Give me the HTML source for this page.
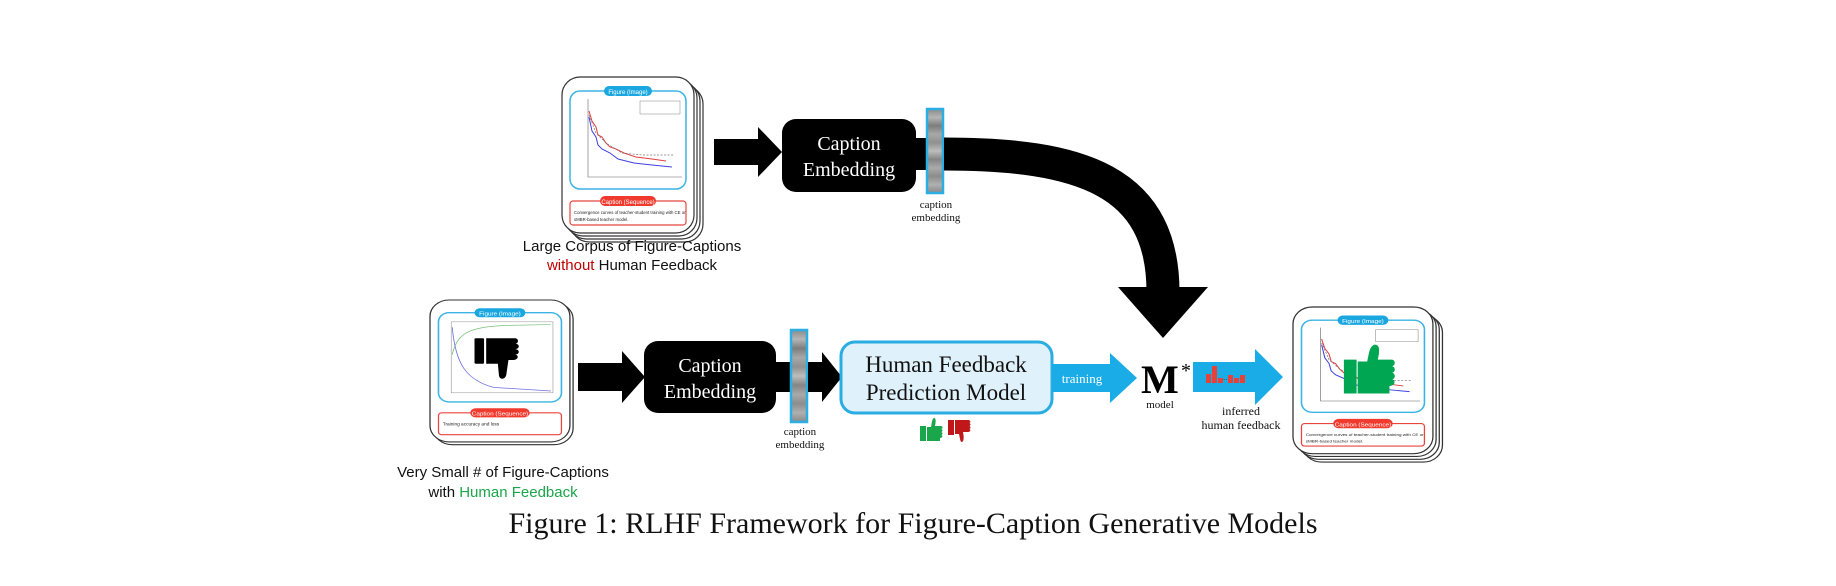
<!DOCTYPE html>
<html><head><meta charset="utf-8"><style>
html,body{margin:0;padding:0;background:#fff;}
svg{display:block;}
</style></head><body>
<svg width="1836" height="586" viewBox="0 0 1836 586" xmlns="http://www.w3.org/2000/svg">
<defs>
<linearGradient id="noise" x1="0" y1="0" x2="0" y2="1">
<stop offset="0" stop-color="#8a8a8a"/><stop offset="0.1" stop-color="#b5b5b5"/><stop offset="0.2" stop-color="#7d7d7d"/><stop offset="0.3" stop-color="#a8a8a8"/><stop offset="0.4" stop-color="#909090"/><stop offset="0.5" stop-color="#bdbdbd"/><stop offset="0.6" stop-color="#858585"/><stop offset="0.7" stop-color="#aaaaaa"/><stop offset="0.8" stop-color="#8c8c8c"/><stop offset="0.9" stop-color="#b0b0b0"/><stop offset="1" stop-color="#888"/>
</linearGradient>
</defs>

<!-- TOP CARD -->
<g transform="translate(562,77)" font-family="Liberation Sans, sans-serif">
<rect x="9" y="9" width="132" height="156" rx="18" fill="#fff" stroke="#333" stroke-width="1.2"/>
<rect x="6" y="6" width="132" height="156" rx="18" fill="#fff" stroke="#333" stroke-width="1.2"/>
<rect x="3" y="3" width="132" height="156" rx="18" fill="#fff" stroke="#333" stroke-width="1.2"/>
<rect x="0" y="0" width="132" height="156" rx="18" fill="#fff" stroke="#333" stroke-width="1.2"/>
<rect x="8" y="14" width="116" height="98" rx="10" fill="#fff" stroke="#3bb4e5" stroke-width="1.5"/>
<rect x="42" y="9" width="48" height="10" rx="5" fill="#1aa7e0"/>
<text x="66" y="17" font-size="6" fill="#fff" text-anchor="middle">Figure (Image)</text>
<path d="M26 22 V100 H120" fill="none" stroke="#666" stroke-width="0.6"/>
<path d="M27 34 L30 44 L34 50 L36 58 L40 60 L44 66 L48 70 L54 72 L62 76 L74 80 L90 82 L104 84" fill="none" stroke="#e04040" stroke-width="1"/>
<path d="M27 40 L30 54 L34 60 L36 68 L40 72 L48 76 L56 82 L72 86 L90 88 L110 90" fill="none" stroke="#4040e0" stroke-width="1"/>
<path d="M27 38 L34 56 L44 66 L60 76 L80 78 L112 78" fill="none" stroke="#777" stroke-width="0.7" stroke-dasharray="2,1.5"/>
<rect x="78" y="24" width="40" height="13" fill="#fff" stroke="#666" stroke-width="0.4"/>
<rect x="8" y="124" width="116" height="24" rx="3" fill="#fff" stroke="#e8453c" stroke-width="1.2"/>
<rect x="38" y="119" width="56" height="10" rx="5" fill="#f03a2e"/>
<text x="66" y="127" font-size="6" fill="#fff" text-anchor="middle">Caption (Sequence)</text>
<text x="12" y="137" font-size="4.3" fill="#222">Convergence curves of teacher-student training with CE or</text>
<text x="12" y="144" font-size="4.3" fill="#222">sMBR-based teacher model.</text>
</g>
<text x="632" y="251" font-family="Liberation Sans, sans-serif" font-size="15" text-anchor="middle" fill="#111">Large Corpus of Figure-Captions</text>
<text x="632" y="270" font-family="Liberation Sans, sans-serif" font-size="15" text-anchor="middle" fill="#111"><tspan fill="#c00000">without</tspan> Human Feedback</text>

<!-- top arrow -->
<path d="M714 139 H758 V127 L782 152 L758 177 V165 H714 Z" fill="#000"/>
<rect x="782" y="119" width="134" height="73" rx="14" fill="#000"/>
<text x="849" y="150" font-family="Liberation Serif, serif" font-size="20" fill="#fff" text-anchor="middle">Caption</text>
<text x="849" y="176" font-family="Liberation Serif, serif" font-size="20" fill="#fff" text-anchor="middle">Embedding</text>
<rect x="916" y="138" width="12" height="32" fill="#000"/>
<rect x="927" y="109" width="16" height="84" fill="url(#noise)" stroke="#2aaee3" stroke-width="2.5"/>
<text x="936" y="208" font-family="Liberation Serif, serif" font-size="11" text-anchor="middle" fill="#111">caption</text>
<text x="936" y="221" font-family="Liberation Serif, serif" font-size="11" text-anchor="middle" fill="#111">embedding</text>

<!-- curved arrow -->
<path d="M944 154 C1080 154 1163 180 1163 292" fill="none" stroke="#000" stroke-width="33"/>
<path d="M1118 287 L1208 287 L1163 338 Z" fill="#000"/>

<!-- BOTTOM LEFT CARD -->
<g transform="translate(430,300) scale(1.06,0.91)" font-family="Liberation Sans, sans-serif">
<rect x="3" y="3" width="132" height="156" rx="18" fill="#fff" stroke="#333" stroke-width="1.2"/>
<rect x="0" y="0" width="132" height="156" rx="18" fill="#fff" stroke="#333" stroke-width="1.2"/>
<rect x="8" y="14" width="116" height="98" rx="10" fill="#fff" stroke="#3bb4e5" stroke-width="1.5"/>
<rect x="42" y="9" width="48" height="10" rx="5" fill="#1aa7e0"/>
<text x="66" y="17" font-size="6" fill="#fff" text-anchor="middle">Figure (Image)</text>
<rect x="20" y="24" width="96" height="78" fill="none" stroke="#888" stroke-width="0.5"/>
<path d="M21 60 C26 34 40 30 70 28 L114 27" fill="none" stroke="#7cbf7c" stroke-width="0.8"/>
<path d="M21 30 C24 70 34 88 60 96 L114 100" fill="none" stroke="#7070e0" stroke-width="0.8"/>
<rect x="42" y="42" width="9" height="28" rx="1" fill="#000"/>
<path d="M53 42 L80 42 C84 42 84 48 80 48 C85 48 85 54 80 54 C85 54 85 60 80 60 C84 60 84 66 78 66 L74 66 L72 82 C71 88 65 88 65 82 L64 70 L53 70 Z" fill="#000"/>
<rect x="8" y="124" width="116" height="24" rx="3" fill="#fff" stroke="#e8453c" stroke-width="1.2"/>
<rect x="38" y="119" width="56" height="10" rx="5" fill="#f03a2e"/>
<text x="66" y="127" font-size="6" fill="#fff" text-anchor="middle">Caption (Sequence)</text>
<text x="12" y="138" font-size="4.5" fill="#222">Training accuracy and loss</text>
</g>
<text x="503" y="477" font-family="Liberation Sans, sans-serif" font-size="15" text-anchor="middle" fill="#111">Very Small # of Figure-Captions</text>
<text x="503" y="497" font-family="Liberation Sans, sans-serif" font-size="15" text-anchor="middle" fill="#111">with <tspan fill="#1aa64a">Human Feedback</tspan></text>

<!-- bottom arrow 1 -->
<path d="M578 363 H622 V351 L645 377 L622 403 V391 H578 Z" fill="#000"/>
<rect x="644" y="341" width="132" height="72" rx="14" fill="#000"/>
<text x="710" y="372" font-family="Liberation Serif, serif" font-size="20" fill="#fff" text-anchor="middle">Caption</text>
<text x="710" y="398" font-family="Liberation Serif, serif" font-size="20" fill="#fff" text-anchor="middle">Embedding</text>
<rect x="776" y="362" width="16" height="30" fill="#000"/>
<rect x="791" y="330" width="16" height="92" fill="url(#noise)" stroke="#2aaee3" stroke-width="2.5"/>
<text x="800" y="435" font-family="Liberation Serif, serif" font-size="11" text-anchor="middle" fill="#111">caption</text>
<text x="800" y="448" font-family="Liberation Serif, serif" font-size="11" text-anchor="middle" fill="#111">embedding</text>
<path d="M808 362 H822 V352 L842 377 L822 402 V392 H808 Z" fill="#000"/>

<!-- HF box -->
<rect x="841" y="342" width="211" height="71" rx="14" fill="#dff1fa" stroke="#29ade2" stroke-width="3"/>
<text x="946" y="372" font-family="Liberation Serif, serif" font-size="23" fill="#111" text-anchor="middle">Human Feedback</text>
<text x="946" y="400" font-family="Liberation Serif, serif" font-size="23" fill="#111" text-anchor="middle">Prediction Model</text>
<g transform="translate(920,418)">
<rect x="0" y="8" width="6" height="15" fill="#1aa64a"/>
<path d="M7 9 L11 9 C12 4 12 1 14 0 C16 0 16 3 15 8 L21 8 C23 8 23 11 21 11 C23 11 23 14 21 14 C23 14 23 17 21 17 C23 17 23 20 20 20 L20 23 L7 23 Z" fill="#1aa64a"/>
</g>
<g transform="translate(948,418)">
<rect x="0" y="2" width="6" height="15" fill="#c01818"/>
<path d="M7 2 L20 2 C23 2 23 5 21 5 C23 5 23 8 21 8 C23 8 23 11 21 11 C23 11 23 14 20 14 L15 14 C16 19 16 23 14 24 C12 24 12 20 11 16 L7 16 Z" fill="#c01818"/>
</g>

<!-- training arrow -->
<path d="M1052 364 H1110 V353 L1137 378 L1110 403 V392 H1052 Z" fill="#1aace6"/>
<text x="1082" y="383" font-family="Liberation Serif, serif" font-size="13" fill="#fff" text-anchor="middle">training</text>

<!-- M* -->
<text x="1141" y="393" font-family="Liberation Serif, serif" font-size="40" font-weight="bold" fill="#000">M</text>
<text x="1181" y="377" font-family="Liberation Serif, serif" font-size="20" fill="#000">*</text>
<text x="1160" y="408" font-family="Liberation Serif, serif" font-size="11" fill="#111" text-anchor="middle">model</text>

<!-- inferred arrow -->
<path d="M1193 362 H1255 V349 L1283 377 L1255 405 V392 H1193 Z" fill="#1aace6"/>
<g fill="#e8413a">
<rect x="1206" y="374" width="5" height="9"/><rect x="1212" y="366" width="5" height="17"/><rect x="1218" y="378" width="5" height="5"/>
<rect x="1228" y="375" width="5" height="8"/><rect x="1234" y="378" width="5" height="5"/><rect x="1240" y="375" width="5" height="8"/>
</g>
<text x="1223" y="380" font-family="Liberation Sans, sans-serif" font-size="8" fill="#333">..</text>
<text x="1241" y="415" font-family="Liberation Serif, serif" font-size="12" text-anchor="middle" fill="#111">inferred</text>
<text x="1241" y="429" font-family="Liberation Serif, serif" font-size="12" text-anchor="middle" fill="#111">human feedback</text>

<!-- RIGHT CARD -->
<g transform="translate(1293,307) scale(1.06,0.94)" font-family="Liberation Sans, sans-serif">
<rect x="9" y="9" width="132" height="156" rx="18" fill="#fff" stroke="#333" stroke-width="1.2"/>
<rect x="6" y="6" width="132" height="156" rx="18" fill="#fff" stroke="#333" stroke-width="1.2"/>
<rect x="3" y="3" width="132" height="156" rx="18" fill="#fff" stroke="#333" stroke-width="1.2"/>
<rect x="0" y="0" width="132" height="156" rx="18" fill="#fff" stroke="#333" stroke-width="1.2"/>
<rect x="8" y="14" width="116" height="98" rx="10" fill="#fff" stroke="#3bb4e5" stroke-width="1.5"/>
<rect x="42" y="9" width="48" height="10" rx="5" fill="#1aa7e0"/>
<text x="66" y="17" font-size="6" fill="#fff" text-anchor="middle">Figure (Image)</text>
<path d="M26 22 V100 H120" fill="none" stroke="#666" stroke-width="0.6"/>
<path d="M27 34 L30 44 L34 50 L36 58 L40 60 L44 66 L48 70 L54 72 L62 76 L74 80 L90 82 L104 84" fill="none" stroke="#e04040" stroke-width="1"/>
<path d="M27 40 L30 54 L34 60 L36 68 L40 72 L48 76 L56 82 L72 86 L90 88 L110 90" fill="none" stroke="#4040e0" stroke-width="1"/>
<path d="M27 38 L34 56 L44 66 L60 76 L80 78 L112 78" fill="none" stroke="#777" stroke-width="0.7" stroke-dasharray="2,1.5"/>
<rect x="78" y="24" width="40" height="13" fill="#fff" stroke="#666" stroke-width="0.4"/>
<rect x="48" y="56" width="12" height="36" fill="#00a651"/>
<path d="M61 58 L70 58 C72 48 72 42 77 40 C82 40 82 46 80 56 L93 56 C97 56 97 63 93 63 C97 63 97 70 93 70 C97 70 97 77 93 77 C97 77 97 84 91 84 L91 92 L61 92 Z" fill="#00a651"/>
<rect x="8" y="124" width="116" height="24" rx="3" fill="#fff" stroke="#e8453c" stroke-width="1.2"/>
<rect x="38" y="119" width="56" height="10" rx="5" fill="#f03a2e"/>
<text x="66" y="127" font-size="6" fill="#fff" text-anchor="middle">Caption (Sequence)</text>
<text x="12" y="137" font-size="4.3" fill="#222">Convergence curves of teacher-student training with CE or</text>
<text x="12" y="144" font-size="4.3" fill="#222">sMBR-based teacher model.</text>
</g>

<!-- caption -->
<text x="913" y="533" font-family="Liberation Serif, serif" font-size="30" text-anchor="middle" fill="#111">Figure 1: RLHF Framework for Figure-Caption Generative Models</text>
</svg>
</body></html>
